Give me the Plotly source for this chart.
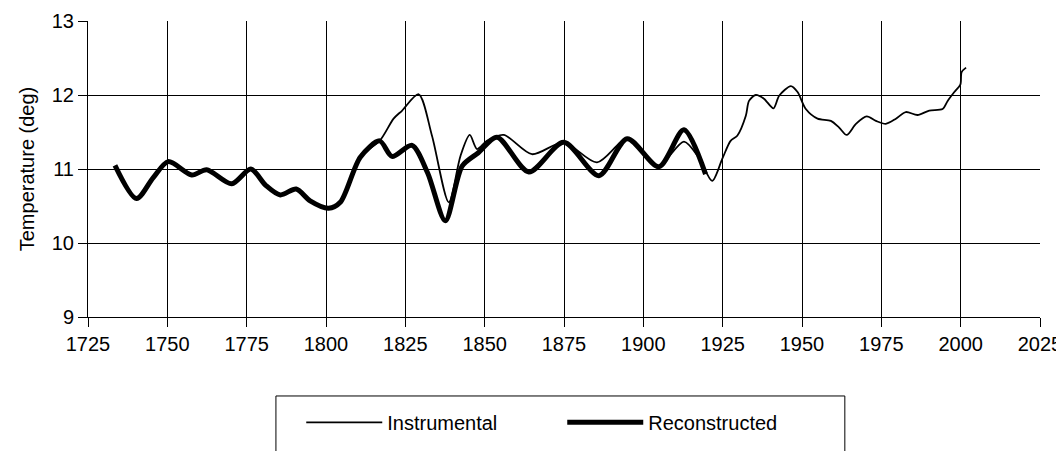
import plotly.graph_objects as go

# Reconstructed series (thick)
recon_years = [1733.5, 1740.3, 1745.5, 1750.3, 1757.7, 1762.4, 1770.3, 1776.3, 1781.0, 1785.6, 1790.6,
               1795.0, 1800.8, 1804.5, 1810.8, 1816.9, 1820.8, 1827.1, 1832.0, 1837.6, 1842.9, 1848.0,
               1853.9, 1863.9, 1874.9, 1886.0, 1894.9, 1904.9, 1912.8, 1919.6]
recon_temp = [11.05, 10.60, 10.88, 11.10, 10.92, 10.99, 10.80, 11.00, 10.78, 10.65, 10.73,
              10.57, 10.47, 10.55, 11.16, 11.38, 11.17, 11.32, 10.95, 10.30, 11.04, 11.22,
              11.43, 10.96, 11.36, 10.91, 11.41, 11.03, 11.53, 10.93]

# Instrumental series (thin)
instr_years = [1811.0, 1816.9, 1821.3, 1824.0, 1829.2, 1833.4, 1838.7, 1842.4, 1845.3, 1847.6, 1850.7,
               1856.0, 1864.9, 1874.9, 1885.4, 1895.0, 1904.4, 1912.8, 1917.5, 1921.7, 1924.9, 1927.5,
               1929.6, 1932.3, 1933.3, 1935.4, 1938.0, 1941.0, 1942.8, 1946.5, 1948.6, 1951.2, 1954.9,
               1959.1, 1961.7, 1964.1, 1967.0, 1970.4, 1973.3, 1976.4, 1979.6, 1982.7, 1986.4, 1990.1,
               1994.3, 1995.9, 1998.0, 1999.9, 2000.3, 2001.7]
instr_temp = [11.20, 11.38, 11.68, 11.79, 12.01, 11.45, 10.55, 11.18, 11.46, 11.27, 11.38,
              11.46, 11.20, 11.36, 11.09, 11.41, 11.03, 11.37, 11.15, 10.84, 11.14, 11.38,
              11.45, 11.72, 11.92, 12.00, 11.95, 11.82, 11.99, 12.12, 12.04, 11.81, 11.68,
              11.65, 11.56, 11.46, 11.61, 11.71, 11.65, 11.61, 11.68, 11.77, 11.73, 11.79,
              11.81, 11.92, 12.04, 12.14, 12.31, 12.37]

x_ticks = [1725, 1750, 1775, 1800, 1825, 1850, 1875, 1900, 1925, 1950, 1975, 2000, 2025]
y_ticks = [9, 10, 11, 12, 13]

fig = go.Figure()
fig.add_trace(go.Scatter(x=instr_years, y=instr_temp, mode="lines", name="Instrumental",
                         line=dict(color="black", width=1.8, shape="spline", smoothing=0.8)))
fig.add_trace(go.Scatter(x=recon_years, y=recon_temp, mode="lines", name="Reconstructed",
                         line=dict(color="black", width=5, shape="spline", smoothing=0.8)))

fig.update_layout(
    width=1056, height=443,
    margin=dict(l=80, r=24, t=13, b=134, autoexpand=False),
    paper_bgcolor="white", plot_bgcolor="white",
    font=dict(family="Liberation Sans, Arial, sans-serif", size=20, color="black"),
    showlegend=True,
    legend=dict(orientation="h", x=0.224, xanchor="left", y=-0.29, yanchor="top",
                itemwidth=76, entrywidth=170, font=dict(size=20),
                bgcolor="rgba(0,0,0,0)", borderwidth=0),
    xaxis=dict(range=[1725, 2025], tickvals=x_ticks, showgrid=True, gridcolor="black", gridwidth=1,
               showline=True, linecolor="black", linewidth=1, automargin=False,
               ticks="outside", ticklen=9, tickcolor="black", zeroline=False),
    yaxis=dict(range=[9, 13], tickvals=y_ticks, showgrid=True, gridcolor="black", gridwidth=1,
               showline=True, linecolor="black", linewidth=1, automargin=False,
               ticks="outside", ticklen=9, tickcolor="black", zeroline=False,
               title=dict(text="Temperature (deg)", font=dict(size=20), standoff=11)),
    shapes=[dict(type="rect", xref="paper", yref="paper", x0=0.1974, x1=0.795, y0=-0.2668, y1=-0.47,
                 line=dict(color="black", width=1), fillcolor="rgba(0,0,0,0)")],
)

fig.write_html("out.html")
